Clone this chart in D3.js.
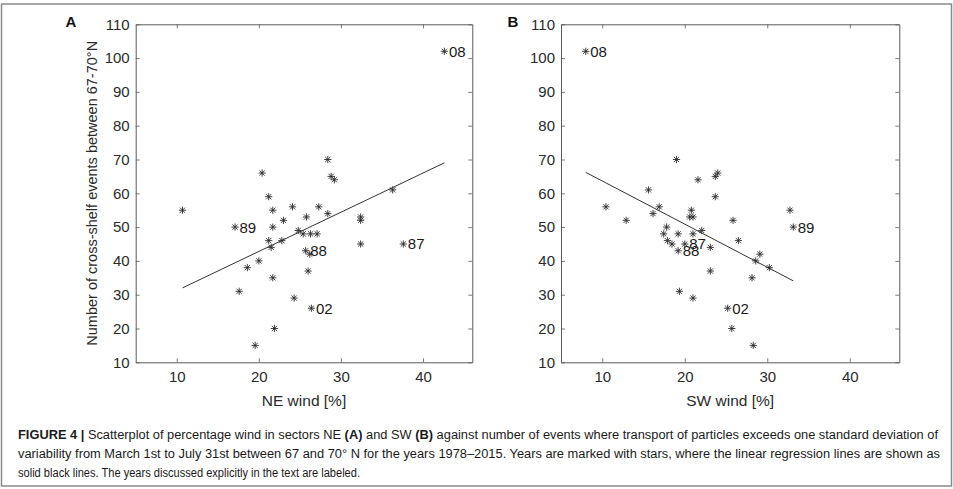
<!DOCTYPE html>
<html><head><meta charset="utf-8">
<script src="https://cdn.jsdelivr.net/npm/d3@7"></script>
<style>
html,body{margin:0;padding:0;background:#fff;}
svg text{font-family:"Liberation Sans",Arial,Helvetica,sans-serif;}
</style></head>
<body><svg id="c" width="953" height="489"></svg>
<script>
// ---- data ----
const xTicks = [10, 20, 30, 40];
const yTicks = [10, 20, 30, 40, 50, 60, 70, 80, 90, 100, 110];
const xDomain = [5, 46];
const yDomain = [10, 110];

// Panel A: NE wind [%] vs number of events
const neWind = [10.7, 17.1, 17.6, 18.6, 19.55, 20.0, 20.4, 21.2, 21.2, 21.5, 21.7, 21.7, 21.7, 21.9, 22.8, 23.0, 24.1, 24.3, 24.8, 25.4, 25.7, 26.2, 25.8, 26.0, 26.3, 26.4, 27.1, 27.3, 28.4, 28.4, 28.8, 29.2, 32.4, 32.4, 32.4, 36.3, 37.6, 42.6];
const neEvents = [55, 50, 31, 38, 15, 40, 66, 59, 46, 44, 55, 50, 35, 20, 46, 52, 56, 29, 49, 48, 43, 42, 53, 37, 48, 26, 48, 56, 70, 54, 65, 64, 53, 52, 45, 61, 45, 102];
const neLabels = ["", "89", "", "", "", "", "", "", "", "", "", "", "", "", "", "", "", "", "", "", "88", "", "", "", "", "02", "", "", "", "", "", "", "", "", "", "", "87", "08"];
const neFit = [1.16, 19.6]; // slope, intercept

// Panel B: SW wind [%] vs number of events
const swWind = [8.0, 10.45, 12.9, 15.6, 16.15, 16.9, 17.45, 17.8, 17.9, 18.45, 19.0, 19.2, 19.2, 19.35, 20.0, 20.8, 20.6, 21.0, 21.0, 21.0, 21.6, 22.05, 23.1, 23.1, 23.7, 24.0, 23.7, 25.2, 25.7, 25.85, 26.5, 28.15, 28.3, 28.6, 29.1, 30.25, 32.75, 33.15];
const swEvents = [102, 56, 52, 61, 54, 56, 48, 50, 46, 45, 70, 48, 43, 31, 45, 55, 53, 53, 48, 29, 64, 49, 44, 37, 65, 66, 59, 26, 20, 52, 46, 35, 15, 40, 42, 38, 55, 50];
const swLabels = ["08", "", "", "", "", "", "", "", "", "", "", "", "88", "", "87", "", "", "", "", "", "", "", "", "", "", "", "", "02", "", "", "", "", "", "", "", "", "", "89"];
const swFit = [-1.276, 76.4];

const yTitle = "Number of cross-shelf events between 67-70°N";

// ---- drawing ----
const svg = d3.select("#c");
svg.append("rect").attr("x", 1.5).attr("y", 4).attr("width", 950).attr("height", 482)
  .attr("fill", "none").attr("stroke", "#8a8a8a").attr("stroke-width", 1.5);

const plotTop = 24.3, plotBottom = 362.3;
const panels = [
  {letter: "A", left: 135.7, right: 472.3, xs: neWind, ys: neEvents, labels: neLabels, fit: neFit, xTitle: "NE wind [%]", letterX: 71},
  {letter: "B", left: 561, right: 899.3, xs: swWind, ys: swEvents, labels: swLabels, fit: swFit, xTitle: "SW wind [%]", letterX: 513}
];
const frameC = "#5a5a5a", textC = "#2a2a2a";

panels.forEach((p, pi) => {
  const x = d3.scaleLinear().domain(xDomain).range([p.left, p.right]);
  const y = d3.scaleLinear().domain(yDomain).range([plotBottom, plotTop]);
  const g = svg.append("g");

  const ax = [
    {a: d3.axisBottom(x).tickValues(xTicks).tickSizeInner(-4).tickSizeOuter(0).tickPadding(9), t: `translate(0,${plotBottom})`},
    {a: d3.axisTop(x).tickValues(xTicks).tickSizeInner(-4).tickSizeOuter(0).tickFormat(""), t: `translate(0,${plotTop})`},
    {a: d3.axisLeft(y).tickValues(yTicks).tickSizeInner(-4).tickSizeOuter(0).tickPadding(6), t: `translate(${p.left},0)`},
    {a: d3.axisRight(y).tickValues(yTicks).tickSizeInner(-4).tickSizeOuter(0).tickFormat(""), t: `translate(${p.right},0)`}
  ];
  ax.forEach(o => {
    const ag = g.append("g").attr("transform", o.t).call(o.a);
    ag.select(".domain").attr("stroke", frameC).attr("stroke-width", 1);
    ag.selectAll(".tick line").attr("stroke", frameC).attr("stroke-width", 0.8);
    ag.selectAll(".tick text").attr("fill", textC).attr("font-size", 15)
      .attr("font-family", "Liberation Sans, Arial, sans-serif");
  });

  const ext = d3.extent(p.xs);
  g.append("line")
    .attr("x1", x(ext[0])).attr("y1", y(p.fit[0] * ext[0] + p.fit[1]))
    .attr("x2", x(ext[1])).attr("y2", y(p.fit[0] * ext[1] + p.fit[1]))
    .attr("stroke", "#333").attr("stroke-width", 1);

  const r = 3.6, rd = r * 0.72;
  const star = `M${-r},0L${r},0M0,${-r}L0,${r}M${-rd},${-rd}L${rd},${rd}M${-rd},${rd}L${rd},${-rd}`;
  const pts = p.xs.map((v, i) => [v, p.ys[i], p.labels[i]]);
  g.selectAll("path.star").data(pts).enter()
    .append("path").attr("class", "star")
    .attr("transform", d => `translate(${x(d[0])},${y(d[1])})`)
    .attr("d", star).attr("fill", "none").attr("stroke", "#2b2b2b").attr("stroke-width", 0.9);

  g.selectAll("text.yr").data(pts.filter(d => d[2])).enter()
    .append("text").attr("class", "yr")
    .attr("x", d => x(d[0]) + 4.5).attr("y", d => y(d[1]))
    .attr("dy", "0.36em").attr("font-size", 15).attr("fill", "#1a1a1a")
    .text(d => d[2]);

  g.append("text").attr("x", (p.left + p.right) / 2).attr("y", 406)
    .attr("text-anchor", "middle").attr("font-size", 15.5).attr("fill", textC).text(p.xTitle);

  g.append("text").attr("x", p.letterX).attr("y", 27).attr("text-anchor", "middle")
    .attr("font-size", 15).attr("font-weight", "bold").attr("fill", "#111").text(p.letter);

  if (pi === 0) {
    g.append("text").attr("transform", `translate(97,${(plotTop + plotBottom) / 2}) rotate(-90)`)
      .attr("text-anchor", "middle").attr("font-size", 14.5).attr("fill", textC).text(yTitle);
  }
});

const cap = svg.append("g").attr("fill", "#1a1a1a").attr("font-size", 12.5);
const l1 = cap.append("text").attr("x", 18).attr("y", 439)
  .attr("textLength", 920).attr("lengthAdjust", "spacingAndGlyphs");
l1.append("tspan").attr("font-weight", "bold").text("FIGURE 4 |");
l1.append("tspan").text(" Scatterplot of percentage wind in sectors NE ");
l1.append("tspan").attr("font-weight", "bold").text("(A)");
l1.append("tspan").text(" and SW ");
l1.append("tspan").attr("font-weight", "bold").text("(B)");
l1.append("tspan").text(" against number of events where transport of particles exceeds one standard deviation of");
cap.append("text").attr("x", 18).attr("y", 458).attr("textLength", 922).attr("lengthAdjust", "spacingAndGlyphs")
  .text("variability from March 1st to July 31st between 67 and 70° N for the years 1978–2015. Years are marked with stars, where the linear regression lines are shown as");
cap.append("text").attr("x", 18).attr("y", 477).attr("textLength", 342).attr("lengthAdjust", "spacingAndGlyphs")
  .text("solid black lines. The years discussed explicitly in the text are labeled.");
</script></body></html>
